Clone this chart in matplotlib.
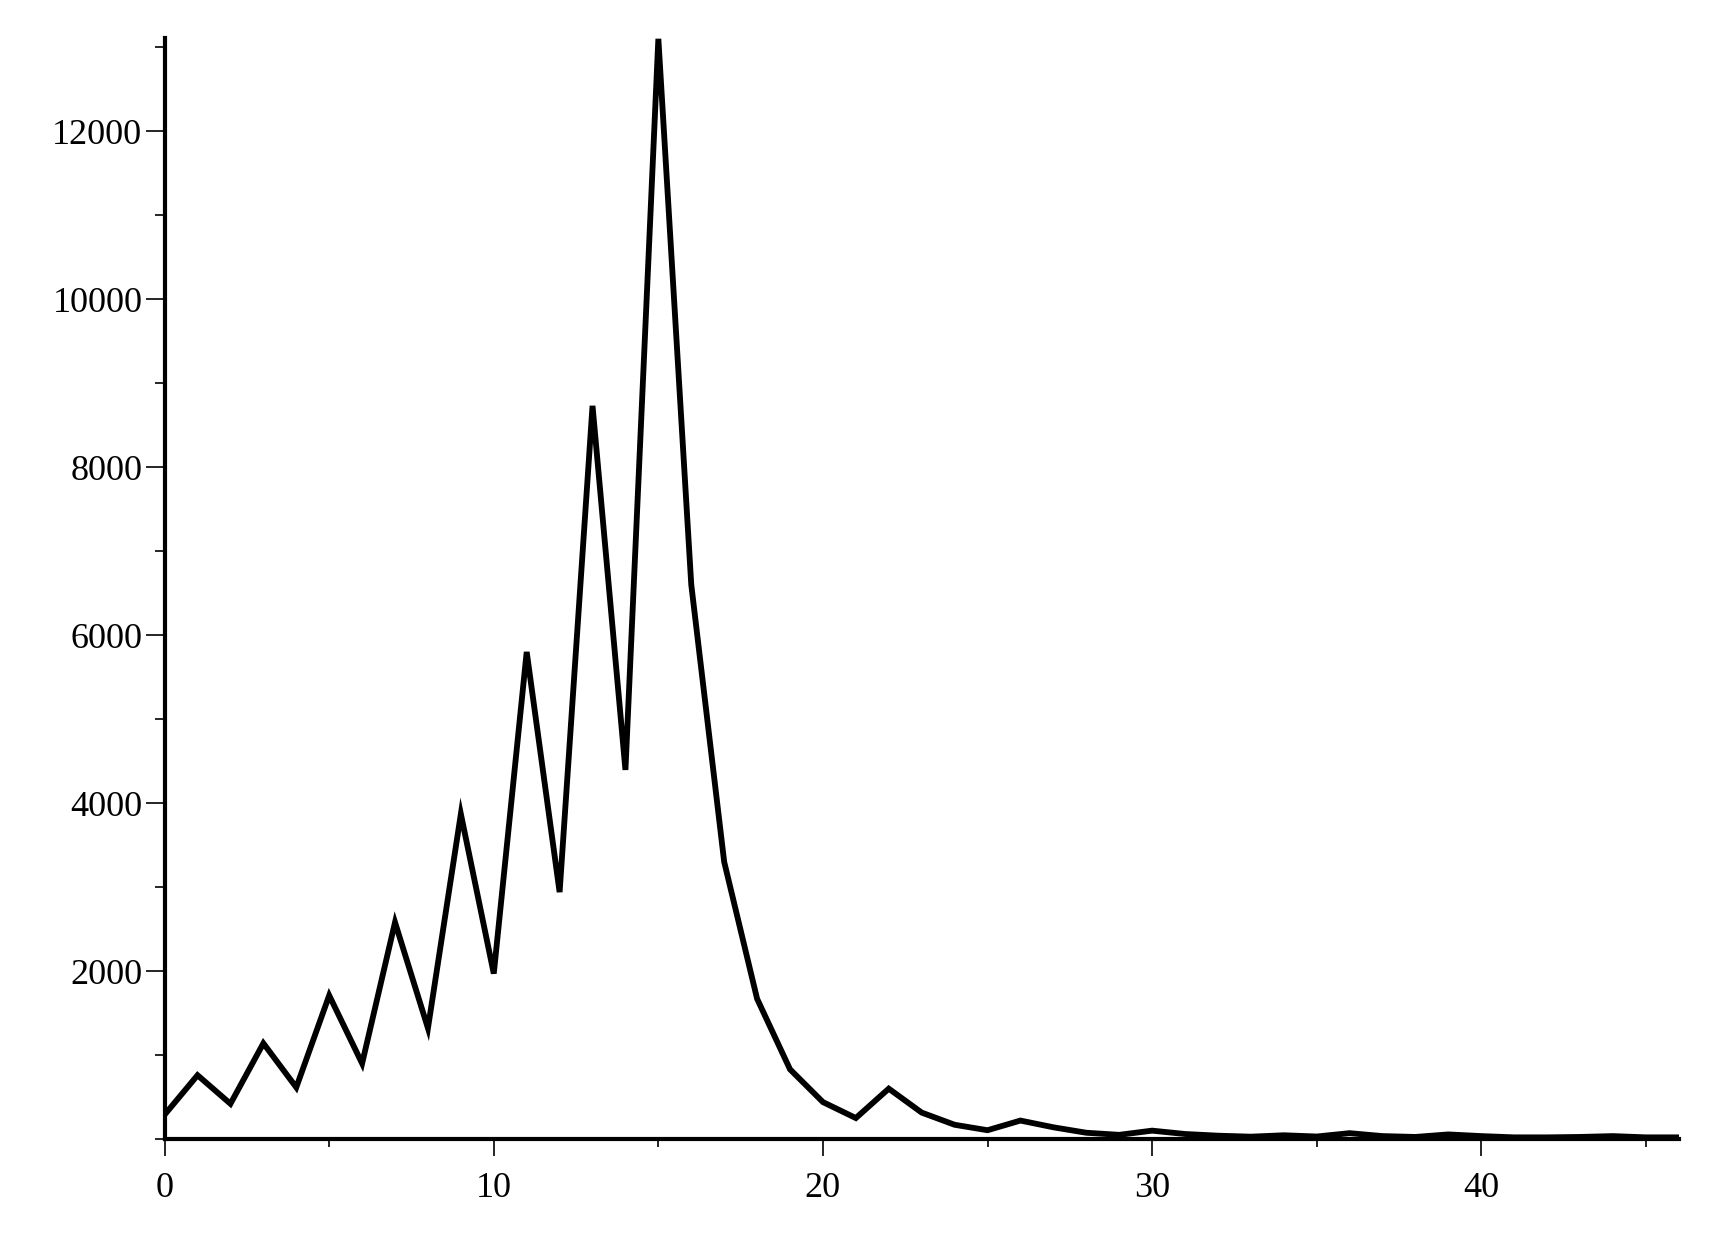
import numpy as np
import matplotlib
matplotlib.use("Agg")
import matplotlib.pyplot as plt
from matplotlib.ticker import MultipleLocator

# values, one per integer step 0..46
steps = np.arange(0, 47)
counts = [290, 760, 420, 1140, 615, 1710, 900, 2580, 1320, 3870,
          1970, 5800, 2940, 8730, 4395, 13100, 6600, 3300, 1670, 830,
          440, 250, 600, 315, 170, 105, 220, 140, 75, 50,
          100, 60, 40, 28, 45, 30, 70, 35, 25, 55,
          35, 20, 20, 25, 35, 20, 20]

x_major = [0, 10, 20, 30, 40]
y_major = [2000, 4000, 6000, 8000, 10000, 12000]

plt.rcParams["font.family"] = ["Liberation Serif", "DejaVu Serif"]

fig = plt.figure(figsize=(17.13, 12.33), dpi=100)
ax = fig.add_axes([0.0961, 0.0762, 0.980 - 0.0961, 0.9692 - 0.0762])

ax.plot(steps, counts, color="black", linewidth=4.2, solid_joinstyle="miter")

ax.set_xlim(0, 46)
ax.set_ylim(0, 13110)

ax.set_xticks(x_major)
ax.set_yticks(y_major)
ax.xaxis.set_minor_locator(MultipleLocator(5))
ax.yaxis.set_minor_locator(MultipleLocator(1000))

for side in ("top", "right"):
    ax.spines[side].set_visible(False)
for side in ("left", "bottom"):
    ax.spines[side].set_linewidth(3)

ax.tick_params(axis="both", which="major", labelsize=26, width=1.2, direction="out")
ax.tick_params(axis="y", which="major", length=14, pad=2)
ax.tick_params(axis="x", which="major", length=12, pad=12)
ax.tick_params(axis="y", which="minor", length=7, width=1.2)
ax.tick_params(axis="x", which="minor", length=6, width=1.2)

fig.savefig("out.png", dpi=100, facecolor="white")
